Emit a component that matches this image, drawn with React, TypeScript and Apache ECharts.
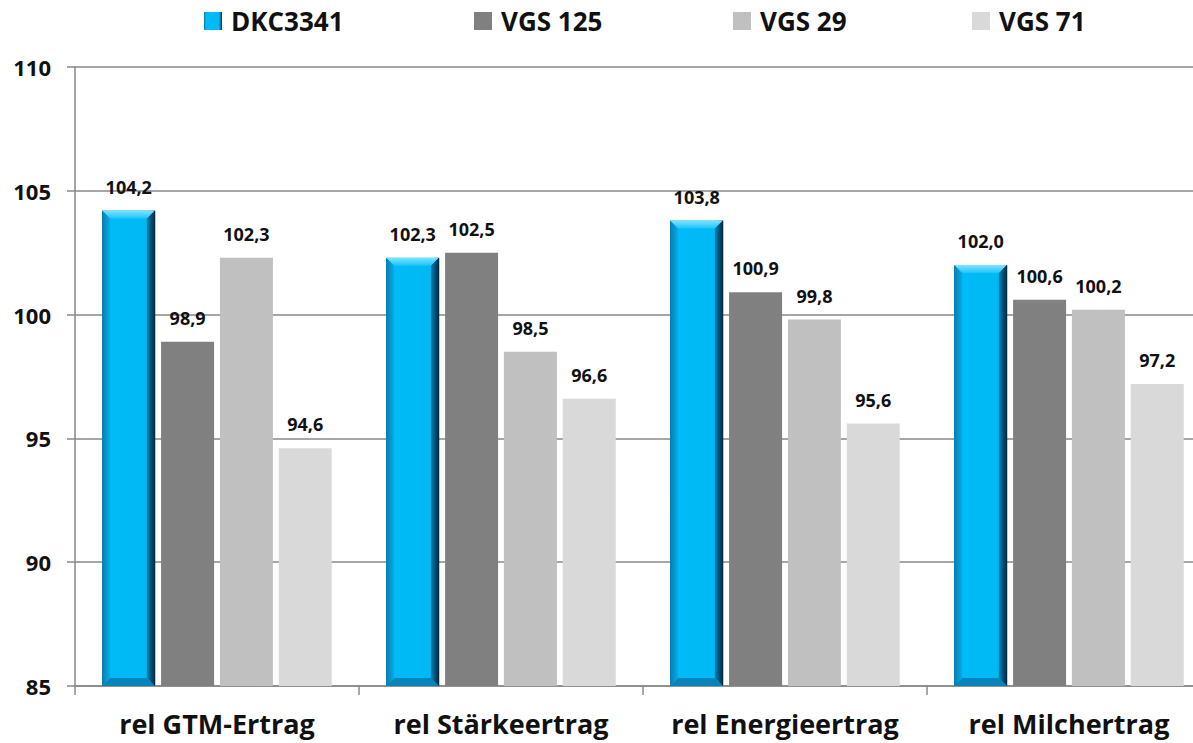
import React, { useEffect, useRef } from "react";
import * as echarts from "echarts";

const categories = ["rel GTM-Ertrag", "rel Stärkeertrag", "rel Energieertrag", "rel Milchertrag"];
const seriesNames = ["DKC3341", "VGS 125", "VGS 29", "VGS 71"];
const dkc3341 = [104.2, 102.3, 103.8, 102.0];
const vgs125 = [98.9, 102.5, 100.9, 100.6];
const vgs29 = [102.3, 98.5, 99.8, 100.2];
const vgs71 = [94.6, 96.6, 95.6, 97.2];
const yMin = 85;
const yMax = 110;
const yInterval = 5;

const FONT = "Open Sans";
const BAR_W = 53;
const BAR_GAP_PX = 6;

const blueGradient = new echarts.graphic.LinearGradient(0, 0, 1, 0, [
  { offset: 0, color: "#0a6fa0" },
  { offset: 0.07, color: "#0aa8e0" },
  { offset: 0.14, color: "#00bbf7" },
  { offset: 0.82, color: "#00b9f5" },
  { offset: 0.9, color: "#0088c0" },
  { offset: 1, color: "#002a44" },
]);

export default function App() {
  const ref = useRef<HTMLDivElement>(null);
  useEffect(() => {
    if (!ref.current) return;
    const chart = echarts.init(ref.current, undefined, { renderer: "svg" });
    const fmt = (p: any) => Number(p.value).toFixed(1).replace(".", ",");
    const label = {
      show: true,
      position: "top",
      distance: 15,
      formatter: fmt,
      fontFamily: FONT,
      fontWeight: "bold",
      fontSize: 18,
      color: "#111",
    };
    const colors = [blueGradient, "#808080", "#c0c0c0", "#d9d9d9"];
    const datas = [dkc3341, vgs125, vgs29, vgs71];
    const legendLefts = [199, 469, 728, 967];
    const groupW = BAR_W * 4 + BAR_GAP_PX * 3;
    chart.setOption({
      animation: false,
      legend: seriesNames.map((n, i) => ({
        data: [n],
        left: legendLefts[i],
        top: 3,
        icon: "rect",
        itemWidth: 18,
        itemHeight: 18,
        itemGap: 10,
        textStyle: { fontFamily: FONT, fontWeight: "bold", fontSize: 26, color: "#111", padding: [0, 0, 0, 4] },
        selectedMode: false,
      })),
      grid: { left: 75, top: 67, width: 1136, height: 619, containLabel: false },
      xAxis: {
        type: "category",
        data: categories,
        axisLine: { show: true, lineStyle: { color: "#888", width: 1.5 } },
        axisTick: { show: true, interval: 0, length: 9, lineStyle: { color: "#888", width: 1.5 } },
        axisLabel: {
          interval: 0,
          margin: 24,
          fontFamily: FONT,
          fontWeight: "bold",
          fontSize: 27,
          color: "#111",
        },
      },
      yAxis: {
        type: "value",
        min: yMin,
        max: yMax,
        interval: yInterval,
        axisLine: { show: true, lineStyle: { color: "#888", width: 1.5 } },
        axisTick: { show: true, length: 8, lineStyle: { color: "#888", width: 1.5 } },
        splitLine: { show: true, lineStyle: { color: "#888", width: 1.5 } },
        axisLabel: {
          margin: 24,
          fontFamily: FONT,
          fontWeight: "bold",
          fontSize: 22,
          color: "#111",
        },
      },
      series: [
        ...seriesNames.map((n, i) => ({
          name: n,
          type: "bar",
          data: datas[i],
          barWidth: BAR_W,
          barGap: "11%",
          itemStyle: { color: colors[i] },
          label,
        })),
        {
          type: "custom",
          name: "bevel",
          silent: true,
          z: 5,
          data: dkc3341.map((v, i) => [i, v]),
          renderItem: (params: any, api: any) => {
            const top = api.coord([api.value(0), api.value(1)]);
            const base = api.coord([api.value(0), yMin]);
            const x0 = top[0] - groupW / 2;
            const x1 = x0 + BAR_W;
            const y0 = top[1];
            const y1 = base[1];
            const b = 8;
            return {
              type: "group",
              children: [
                {
                  type: "polygon",
                  shape: { points: [[x0, y0], [x1, y0], [x1 - b, y0 + b], [x0 + b, y0 + b]] },
                  style: {
                    fill: new echarts.graphic.LinearGradient(0, 0, 0, 1, [
                      { offset: 0, color: "#7fe3ff" },
                      { offset: 1, color: "#1cc4fa" },
                    ]),
                  },
                },
                {
                  type: "polygon",
                  shape: { points: [[x1, y0], [x1, y1], [x1 - b, y1 - b], [x1 - b, y0 + b]] },
                  style: {
                    fill: new echarts.graphic.LinearGradient(0, 0, 1, 0, [
                      { offset: 0, color: "#0080b4" },
                      { offset: 1, color: "#00263c" },
                    ]),
                  },
                },
                {
                  type: "polygon",
                  shape: { points: [[x0, y1], [x1, y1], [x1 - b, y1 - b], [x0 + b, y1 - b]] },
                  style: { fill: "#0785bb" },
                },
                {
                  type: "polygon",
                  shape: { points: [[x0, y0], [x0 + b, y0 + b], [x0 + b, y1 - b], [x0, y1]] },
                  style: {
                    fill: new echarts.graphic.LinearGradient(0, 0, 1, 0, [
                      { offset: 0, color: "#0a7cb0" },
                      { offset: 1, color: "#05ace6" },
                    ]),
                  },
                },
              ],
            };
          },
        },
      ],
    });
    return () => chart.dispose();
  }, []);
  return (
    <div style={{ position: "fixed", left: 0, top: 0, width: 1193, height: 743, overflow: "hidden", background: "#fff" }}>
      <div ref={ref} style={{ width: 1220, height: 743 }} />
    </div>
  );
}
